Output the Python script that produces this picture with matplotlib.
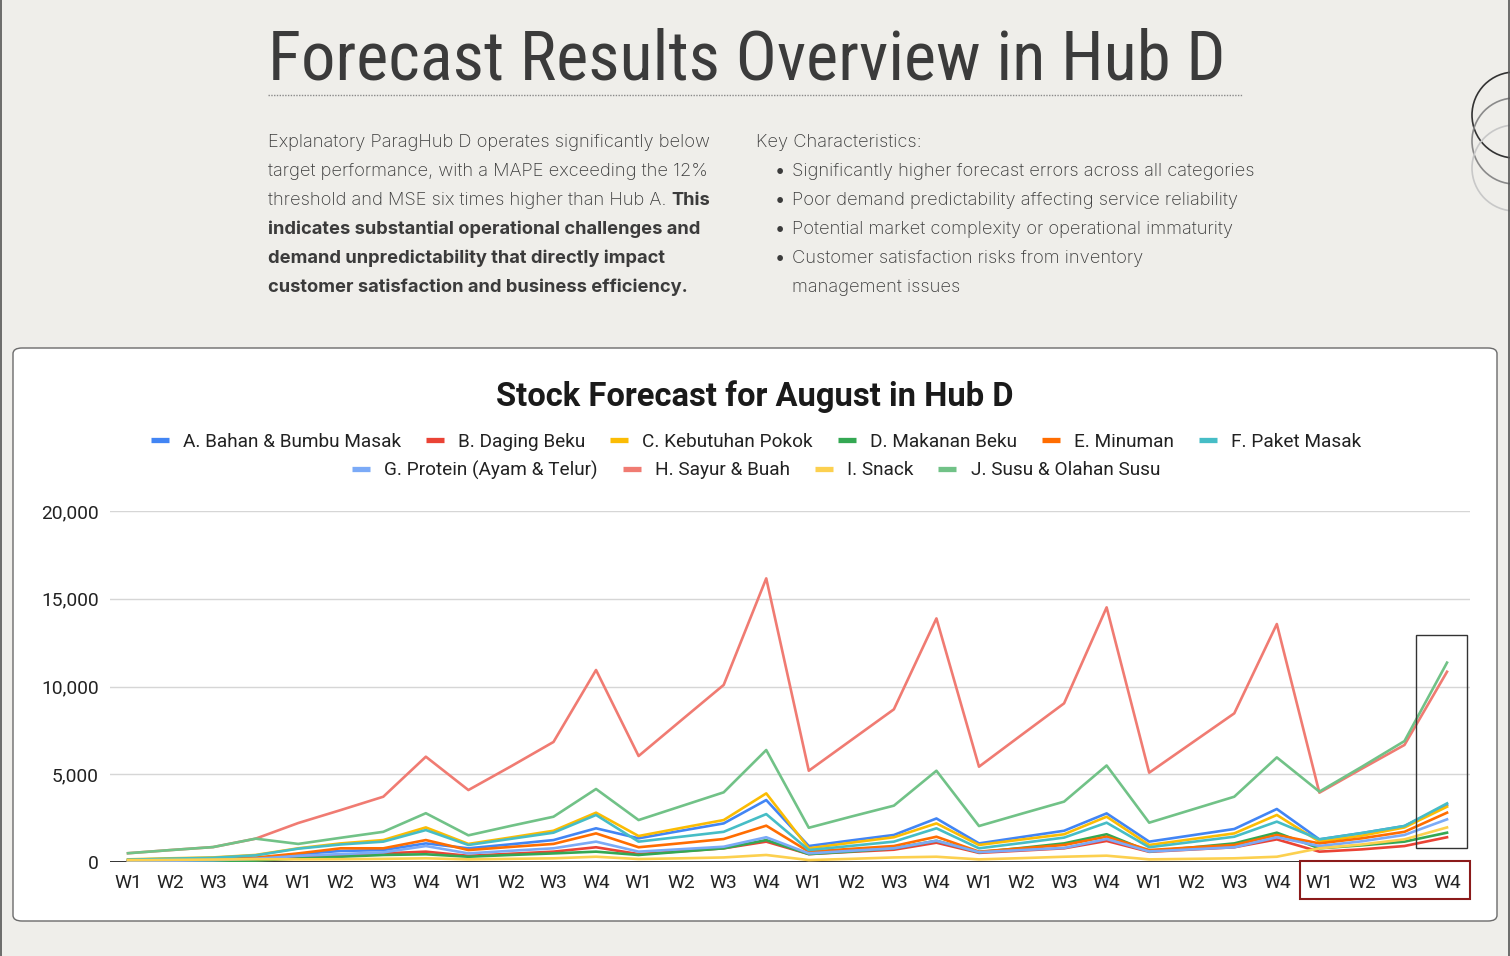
import matplotlib
matplotlib.use("Agg")
import matplotlib.pyplot as plt
from matplotlib.patches import FancyBboxPatch, Rectangle, Circle
from matplotlib.lines import Line2D
from matplotlib import font_manager

W, H = 1510, 956

# ---------------- data ----------------
weeks = ["W1", "W2", "W3", "W4"] * 8
series_names = [
    "A. Bahan & Bumbu Masak", "B. Daging Beku", "C. Kebutuhan Pokok",
    "D. Makanan Beku", "E. Minuman", "F. Paket Masak",
    "G. Protein (Ayam & Telur)", "H. Sayur & Buah", "I. Snack",
    "J. Susu & Olahan Susu",
]
colors = ["#4285F4", "#EA4335", "#FBBC04", "#34A853", "#FF6D01",
          "#46BDC6", "#7BAAF7", "#F07B72", "#FCD04F", "#71C287"]

a_bahan = [60, 90, 120, 200, 450, 630, 680, 1060, 780, 1010, 1250, 1920, 1350, 1780, 2200, 3530,
           910, 1230, 1540, 2480, 1060, 1420, 1780, 2770, 1160, 1520, 1880, 3020, 1290, 1650, 2050, 3250]
b_daging = [30, 40, 60, 100, 250, 350, 490, 590, 350, 470, 590, 840, 450, 610, 780, 1160,
            450, 580, 700, 1100, 520, 650, 780, 1200, 580, 710, 840, 1290, 590, 720, 910, 1410]
c_pokok = [150, 210, 260, 400, 780, 1060, 1250, 1970, 1030, 1400, 1780, 2810, 1480, 1940, 2390, 3910,
           780, 1100, 1410, 2200, 970, 1280, 1580, 2580, 970, 1300, 1630, 2680, 1160, 1500, 1970, 3150]
d_makanan = [20, 30, 50, 80, 200, 300, 400, 440, 300, 400, 490, 590, 400, 590, 780, 1250,
             450, 600, 780, 1210, 560, 800, 1060, 1580, 600, 830, 1060, 1670, 780, 950, 1160, 1670]
e_minuman = [80, 110, 150, 250, 490, 780, 780, 1250, 680, 860, 1030, 1630, 840, 1070, 1310, 2070,
             590, 750, 910, 1440, 590, 780, 970, 1440, 680, 830, 970, 1540, 1060, 1350, 1720, 2810]
f_paket = [130, 190, 240, 380, 760, 1000, 1160, 1820, 970, 1320, 1670, 2680, 1160, 1440, 1720, 2730,
           680, 920, 1160, 1920, 780, 1080, 1390, 2240, 840, 1140, 1440, 2300, 1290, 1650, 2050, 3340]
g_protein = [50, 70, 100, 180, 350, 450, 550, 910, 490, 640, 780, 1160, 590, 730, 870, 1410,
             490, 640, 780, 1210, 560, 680, 800, 1310, 600, 720, 840, 1410, 910, 1180, 1540, 2430]
h_sayur = [500, 680, 850, 1330, 2220, 2960, 3720, 6000, 4100, 5450, 6840, 10940, 6040, 8070, 10090, 16160,
           5200, 6950, 8700, 13880, 5430, 7240, 9040, 14510, 5090, 6780, 8470, 13560, 3950, 5320, 6670, 10840]
i_snack = [100, 120, 140, 160, 150, 160, 180, 210, 150, 180, 210, 300, 170, 210, 260, 400,
           110, 180, 260, 300, 150, 220, 300, 360, 150, 180, 210, 300, 780, 1000, 1290, 1970]
j_susu = [500, 680, 850, 1330, 1030, 1380, 1720, 2780, 1520, 2060, 2580, 4160, 2390, 3180, 3970, 6380,
          1950, 2590, 3210, 5200, 2050, 2750, 3440, 5500, 2240, 2980, 3720, 5960, 4010, 5430, 6890, 11360]

series_values = [a_bahan, b_daging, c_pokok, d_makanan, e_minuman,
                 f_paket, g_protein, h_sayur, i_snack, j_susu]
y_ticks = [0, 5000, 10000, 15000, 20000]

# ---------------- fonts ----------------
avail = {f.name for f in font_manager.fontManager.ttflist}
def pick(*names):
    for n in names:
        if n in avail:
            return n
    return "DejaVu Sans"
F_BODY = pick("Inter", "Lato", "Roboto")
F_TITLE = pick("Liberation Sans Narrow", "Roboto Condensed", "Inter")
F_CHART = pick("Roboto", "Liberation Sans")

TXT = "#3b3b3b"
BG = "#EFEEEA"

fig = plt.figure(figsize=(W / 100, H / 100), dpi=100, facecolor=BG)

def fx(x):
    return x / W
def fy(y):
    return 1 - y / H

# page border lines
fig.add_artist(Line2D([fx(0.5), fx(0.5)], [0, 1], color="#555555", lw=1.2))
fig.add_artist(Line2D([fx(1509), fx(1509)], [0, 1], color="#555555", lw=1.2))

# decorative circles at right (pixel-true circles via inch transform)
for cy, col in [(115, "#333333"), (141, "#8a8a8a"), (168, "#c8c8c8")]:
    fig.add_artist(Circle((1515 / 100, (H - cy) / 100), 0.43, transform=fig.dpi_scale_trans,
                          fill=False, ec=col, lw=1.2))

# ---------------- header ----------------
fig.text(fx(268), fy(79), "Forecast Results Overview in Hub D", family=F_TITLE,
         fontsize=49.3, color=TXT, ha="left", va="baseline")
fig.add_artist(Line2D([fx(268), fx(1243)], [fy(95), fy(95)], color="#8a8a8a",
                      lw=1, ls=(0, (1, 1))))

body_fs = 13.2
lh = 29.0
base0 = 147
left_lines = [
    ("Explanatory ParagHub D operates significantly below", None),
    ("target performance, with a MAPE exceeding the 12%", None),
    ("threshold and MSE six times higher than Hub A. ", "This"),
    (None, "indicates substantial operational challenges and"),
    (None, "demand unpredictability that directly impact"),
    (None, "customer satisfaction and business efficiency."),
]
for k, (reg, bold) in enumerate(left_lines):
    yb = fy(base0 + k * lh)
    if reg is not None:
        t = fig.text(fx(268), yb, reg, family=F_BODY, fontsize=body_fs, weight="light",
                     color=TXT, ha="left", va="baseline")
        if bold is not None:
            fig.canvas.draw()
            bb = t.get_window_extent()
            fig.text(bb.x1 / W, yb, bold, family=F_BODY, fontsize=body_fs, weight="bold",
                     color=TXT, ha="left", va="baseline")
    else:
        fig.text(fx(268), yb, bold, family=F_BODY, fontsize=body_fs, weight="bold",
                 color=TXT, ha="left", va="baseline")

fig.text(fx(756), fy(base0), "Key Characteristics:", family=F_BODY, fontsize=body_fs,
         weight="light", color=TXT, ha="left", va="baseline")
bullets = [
    "Significantly higher forecast errors across all categories",
    "Poor demand predictability affecting service reliability",
    "Potential market complexity or operational immaturity",
    "Customer satisfaction risks from inventory",
]
for k, b in enumerate(bullets):
    yb = fy(base0 + (k + 1) * lh)
    fig.text(fx(775), yb, "\u2022", family=F_BODY, fontsize=body_fs, color=TXT,
             ha="left", va="baseline")
    fig.text(fx(792), yb, b, family=F_BODY, fontsize=body_fs, weight="light",
             color=TXT, ha="left", va="baseline")
fig.text(fx(792), fy(base0 + 5 * lh), "management issues", family=F_BODY, fontsize=body_fs,
         weight="light", color=TXT, ha="left", va="baseline")

# ---------------- chart card ----------------
card = FancyBboxPatch((fx(13), fy(921)), fx(1497) - fx(13), fy(348) - fy(921),
                      boxstyle="round,pad=0,rounding_size=0.006", transform=fig.transFigure,
                      fc="white", ec="#6b6b6b", lw=1.0, zorder=0)
fig.add_artist(card)

fig.text(fx(755), fy(406), "Stock Forecast for August in Hub D", family=F_CHART,
         fontsize=23.6, weight="bold", color="#1a1a1a", ha="center", va="baseline")

ax = fig.add_axes([fx(110), fy(862), fx(1470) - fx(110), fy(511) - fy(862)])
ax.set_facecolor("white")
x = list(range(len(weeks)))
handles = []
for name, vals, col in zip(series_names, series_values, colors):
    ax.plot(x, vals, color=col, lw=1.9, solid_joinstyle="round", zorder=3)
    handles.append(Line2D([], [], color=col, lw=3.8, solid_capstyle="butt"))

ax.set_ylim(0, 20000)
ax.set_xlim(-0.423, 31.54)
ax.set_yticks(y_ticks)
ax.set_yticklabels([f"{v:,}" for v in y_ticks])
ax.set_xticks(x)
ax.set_xticklabels(weeks)
ax.grid(axis="y", color="#d6d6d6", lw=1)
ax.set_axisbelow(True)
ax.axhline(0, color="#333333", lw=1.4, zorder=2)
for s in ax.spines.values():
    s.set_visible(False)
ax.tick_params(axis="both", length=0, labelsize=13.8, colors="#222222")
ax.tick_params(axis="x", pad=9)
ax.tick_params(axis="y", pad=8)
for lab in ax.get_xticklabels() + ax.get_yticklabels():
    lab.set_family(F_CHART)

leg_kw = dict(frameon=False, prop={"family": F_CHART, "size": 13.7}, handlelength=0.95,
              handletextpad=0.75, columnspacing=1.3, borderaxespad=0, borderpad=0,
              labelcolor="#222222")
leg1 = fig.legend(handles[:6], series_names[:6], ncol=6, loc="center",
                  bbox_to_anchor=(fx(756), fy(442)), **leg_kw)
leg2 = fig.legend(handles[6:], series_names[6:], ncol=4, loc="center",
                  bbox_to_anchor=(fx(756), fy(470)), **leg_kw)

# highlight boxes
fig.add_artist(Rectangle((fx(1416), fy(848)), fx(1467) - fx(1416), fy(635) - fy(848),
                         transform=fig.transFigure, fill=False, ec="#333333", lw=1.0, zorder=5))
fig.add_artist(Rectangle((fx(1300), fy(899)), fx(1470) - fx(1300), fy(861) - fy(899),
                         transform=fig.transFigure, fill=False, ec="#8B1A1A", lw=1.5, zorder=5))

fig.savefig("out.png", dpi=100, facecolor=BG)
